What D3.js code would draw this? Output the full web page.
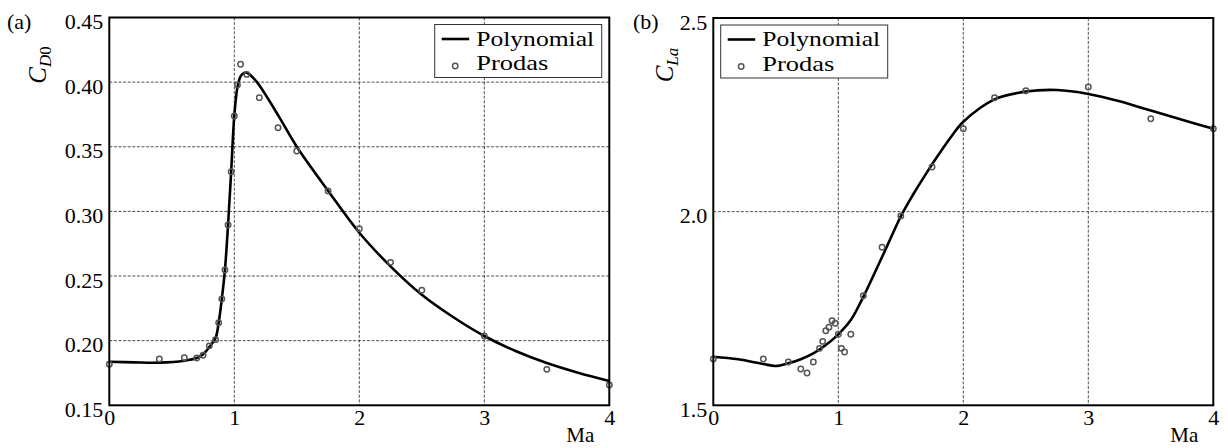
<!DOCTYPE html>
<html>
<head>
<meta charset="utf-8">
<script src="https://cdn.jsdelivr.net/npm/d3@7"></script>
<style>
  html, body { margin: 0; padding: 0; background: #fff; }
  svg { display: block; }
  svg text { font-family: "Liberation Serif", "DejaVu Serif", "Noto Serif", serif !important; fill: #000; }
</style>
</head>
<body>
<svg id="chart" width="1228" height="448"></svg>
<script>
// ---- Drag coefficient C_D0 vs Mach number ----
const machProdasA = [0, 0.4, 0.6, 0.7, 0.75, 0.8, 0.85, 0.875, 0.9, 0.925, 0.95, 0.975, 1.0, 1.025, 1.05, 1.1, 1.2, 1.35, 1.5, 1.75, 2.0, 2.25, 2.5, 3.0, 3.5, 4.0];
const cd0Prodas = [0.1817, 0.1858, 0.1868, 0.1866, 0.1887, 0.1960, 0.2008, 0.2139, 0.2322, 0.2547, 0.2895, 0.3307, 0.3738, 0.3978, 0.4138, 0.4060, 0.3880, 0.3647, 0.3467, 0.3158, 0.2866, 0.2606, 0.2390, 0.2036, 0.1778, 0.1657];

const machPolyA = [0, 0.2, 0.4, 0.6, 0.7, 0.75, 0.8, 0.85, 0.875, 0.9, 0.925, 0.95, 0.975, 1.0, 1.025, 1.05, 1.075, 1.1, 1.15, 1.2, 1.35, 1.5, 1.75, 2.0, 2.25, 2.5, 2.75, 3.0, 3.25, 3.5, 3.75, 4.0];
const cd0Poly = [0.1837, 0.1832, 0.1830, 0.1845, 0.1866, 0.1893, 0.1950, 0.2020, 0.2139, 0.2322, 0.2547, 0.2895, 0.3310, 0.3740, 0.3960, 0.4045, 0.4070, 0.4073, 0.4035, 0.3975, 0.3745, 0.3500, 0.3160, 0.2835, 0.2575, 0.2355, 0.2183, 0.2036, 0.1920, 0.1827, 0.1752, 0.1688];

// ---- Lift slope C_La vs Mach number ----
const machProdasB = [0, 0.4, 0.6, 0.7, 0.75, 0.8, 0.85, 0.875, 0.9, 0.925, 0.95, 0.975, 1.0, 1.025, 1.05, 1.1, 1.2, 1.35, 1.5, 1.75, 2.0, 2.25, 2.5, 3.0, 3.5, 4.0];
const claProdas = [1.6195, 1.6195, 1.6118, 1.5937, 1.5834, 1.6118, 1.6470, 1.6650, 1.6926, 1.7014, 1.7185, 1.7117, 1.6833, 1.6470, 1.6376, 1.6833, 1.7830, 1.9080, 1.9890, 2.1153, 2.2140, 2.2940, 2.3120, 2.3220, 2.2400, 2.2140];

const machPolyB = [0, 0.2, 0.4, 0.5, 0.6, 0.7, 0.8, 0.9, 1.0, 1.1, 1.2, 1.3, 1.4, 1.5, 1.6, 1.7, 1.8, 1.9, 2.0, 2.25, 2.5, 2.75, 3.0, 3.25, 3.5, 3.75, 4.0];
const claPoly = [1.6255, 1.6187, 1.6066, 1.6015, 1.6084, 1.6190, 1.6340, 1.6557, 1.6833, 1.7200, 1.7800, 1.8480, 1.9180, 1.9880, 2.0450, 2.0970, 2.1460, 2.1920, 2.2320, 2.2900, 2.3100, 2.3140, 2.3040, 2.2850, 2.2610, 2.2370, 2.2140];

// ---- Axis ticks ----
const machTicks = [0, 1, 2, 3, 4];
const cd0Ticks = [0.15, 0.20, 0.25, 0.30, 0.35, 0.40, 0.45];
const claTicks = [1.5, 2.0, 2.5];

const FONT = "Liberation Serif, DejaVu Serif, serif";
const MARKER = { r: 2.7, stroke: "#555", width: 1.5 };
const svg = d3.select("#chart");
svg.append("rect").attr("width", 1228).attr("height", 448).attr("fill", "#fff");

function drawPanel(cfg) {
  const x = d3.scaleLinear().domain([0, 4]).range([cfg.left, cfg.right]);
  const y = d3.scaleLinear().domain(cfg.yDomain).range([cfg.bottom, cfg.top]);
  const g = svg.append("g").attr("font-family", FONT);

  // dashed grid at interior ticks
  g.append("g").selectAll("line").data(machTicks.slice(1, -1)).join("line")
    .attr("x1", d => x(d)).attr("x2", d => x(d))
    .attr("y1", cfg.top).attr("y2", cfg.bottom)
    .attr("stroke", "#222").attr("stroke-width", 0.8).attr("stroke-dasharray", "3,1.6");
  g.append("g").selectAll("line").data(cfg.yTicks.slice(1, -1)).join("line")
    .attr("x1", cfg.left).attr("x2", cfg.right)
    .attr("y1", d => y(d)).attr("y2", d => y(d))
    .attr("stroke", "#222").attr("stroke-width", 0.8).attr("stroke-dasharray", "3,1.6");

  // tick labels
  const yAxis = d3.axisLeft(y).tickValues(cfg.yTicks).tickFormat(d3.format(cfg.yFormat))
    .tickSize(0).tickPadding(6);
  const ya = g.append("g").attr("transform", `translate(${cfg.left},0)`).call(yAxis)
    .attr("font-family", FONT).attr("font-size", 22);
  ya.select(".domain").remove();
  ya.selectAll("text").attr("dy", "0.5em").attr("fill", "#000");

  const xAxis = d3.axisBottom(x).tickValues(machTicks).tickFormat(d3.format("d"))
    .tickSize(0).tickPadding(6);
  const xa = g.append("g").attr("transform", `translate(0,${cfg.bottom})`).call(xAxis)
    .attr("font-family", FONT).attr("font-size", 22);
  xa.select(".domain").remove();
  xa.selectAll("text").attr("dy", "0.62em").attr("fill", "#000");

  // polynomial fit
  const line = d3.line().x(d => x(d[0])).y(d => y(d[1])).curve(d3.curveCatmullRom.alpha(0.5));
  g.append("path").datum(d3.zip(cfg.polyX, cfg.polyY))
    .attr("d", line).attr("fill", "none").attr("stroke", "#000")
    .attr("stroke-width", 2.6).attr("stroke-linejoin", "round");

  // PRODAS points
  g.append("g").selectAll("circle").data(d3.zip(cfg.ptsX, cfg.ptsY)).join("circle")
    .attr("cx", d => x(d[0])).attr("cy", d => y(d[1])).attr("r", MARKER.r)
    .attr("fill", "none").attr("stroke", MARKER.stroke).attr("stroke-width", MARKER.width);

  // frame
  g.append("rect").attr("x", cfg.left).attr("y", cfg.top)
    .attr("width", cfg.right - cfg.left).attr("height", cfg.bottom - cfg.top)
    .attr("fill", "none").attr("stroke", "#000").attr("stroke-width", 2);

  // legend
  const lx = cfg.legendX, ly = cfg.top + 7;
  const lg = g.append("g");
  lg.append("rect").attr("x", lx).attr("y", ly).attr("width", 167).attr("height", 53)
    .attr("fill", "#fff").attr("stroke", "#333").attr("stroke-width", 1);
  lg.append("line").attr("x1", lx + 7).attr("x2", lx + 34.5)
    .attr("y1", ly + 14.5).attr("y2", ly + 14.5)
    .attr("stroke", "#000").attr("stroke-width", 2.6);
  lg.append("circle").attr("cx", lx + 20.5).attr("cy", ly + 41.5).attr("r", MARKER.r)
    .attr("fill", "none").attr("stroke", MARKER.stroke).attr("stroke-width", MARKER.width);
  lg.append("text").attr("x", lx + 41.5).attr("y", ly + 21).attr("font-size", 22)
    .attr("textLength", 118).attr("lengthAdjust", "spacingAndGlyphs").text("Polynomial");
  lg.append("text").attr("x", lx + 41.5).attr("y", ly + 45.5).attr("font-size", 22)
    .attr("textLength", 72).attr("lengthAdjust", "spacingAndGlyphs").text("Prodas");

  // panel tag
  g.append("text").attr("x", cfg.tagX).attr("y", 29).attr("font-size", 22).text(cfg.tag);

  // x label
  g.append("text").attr("x", cfg.right - 15).attr("y", 442).attr("text-anchor", "end")
    .attr("font-size", 21).text("Ma");

  // y label
  const yl = g.append("text").attr("transform", `translate(${cfg.yLabelX},65) rotate(-90)`)
    .attr("text-anchor", "middle").attr("font-size", 25);
  yl.append("tspan").attr("font-style", "italic").text("C");
  cfg.ySub.forEach((s, i) => {
    yl.append("tspan").attr("font-size", 17).attr("font-style", s.italic ? "italic" : "normal")
      .attr("dy", i === 0 ? 5 : 0).text(s.t);
  });
}

drawPanel({
  left: 109.3, right: 609.3, top: 17.5, bottom: 405.3,
  yDomain: [0.15, 0.45], yTicks: cd0Ticks, yFormat: ".2f",
  polyX: machPolyA, polyY: cd0Poly, ptsX: machProdasA, ptsY: cd0Prodas,
  legendX: 434.7, tag: "(a)", tagX: 7, yLabelX: 46,
  ySub: [{ t: "D", italic: true }, { t: "0", italic: false }]
});

drawPanel({
  left: 713.3, right: 1213.3, top: 18, bottom: 405.3,
  yDomain: [1.5, 2.5], yTicks: claTicks, yFormat: ".1f",
  polyX: machPolyB, polyY: claPoly, ptsX: machProdasB, ptsY: claProdas,
  legendX: 720.7, tag: "(b)", tagX: 633, yLabelX: 673,
  ySub: [{ t: "L", italic: true }, { t: "a", italic: true }]
});
</script>
</body>
</html>
